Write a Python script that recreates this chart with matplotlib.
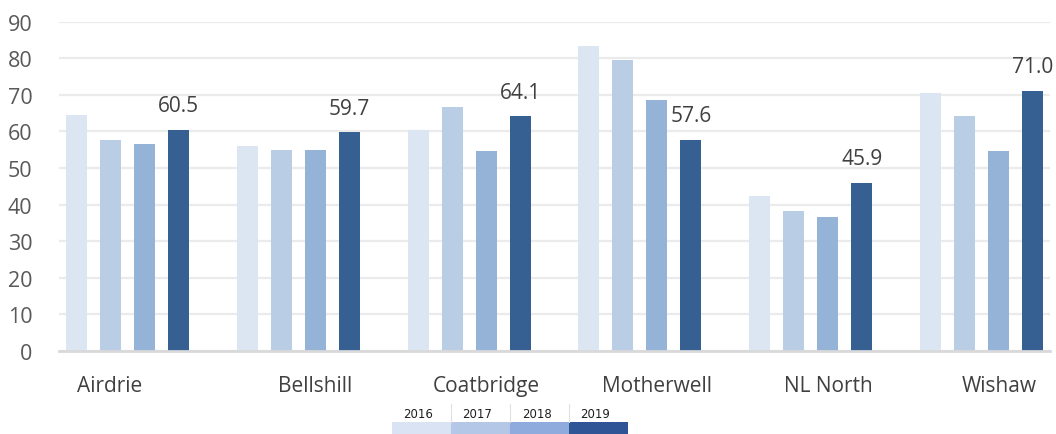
import matplotlib
matplotlib.use("Agg")
import matplotlib.pyplot as plt
import matplotlib.transforms as mtransforms
from matplotlib.patches import Rectangle
import numpy as np

# ---- data ----
categories = ["Airdrie", "Bellshill", "Coatbridge", "Motherwell", "NL North", "Wishaw"]
years = ["2016", "2017", "2018", "2019"]
v2016 = [64.5, 56.0, 60.4, 83.3, 42.3, 70.5]
v2017 = [57.7, 54.9, 66.7, 79.5, 38.2, 64.2]
v2018 = [56.6, 54.9, 54.6, 68.6, 36.6, 54.6]
v2019 = [60.5, 59.7, 64.1, 57.6, 45.9, 71.0]
series = [v2016, v2017, v2018, v2019]
yticks = [0, 10, 20, 30, 40, 50, 60, 70, 80, 90]

bar_colors = ["#DCE6F2", "#B9CDE5", "#95B3D7", "#366092"]
legend_colors = ["#DAE3F3", "#B4C7E7", "#8FAADC", "#2F5597"]

W, H = 1056, 435
fig = plt.figure(figsize=(W / 100, H / 100), dpi=100)
fig.patch.set_facecolor("white")

ax_l, ax_r = 59, 1050
ax_bottom, ax_top = 352, 22.6
ax = fig.add_axes([ax_l / W, (H - ax_bottom) / H, (ax_r - ax_l) / W, (ax_bottom - ax_top) / H])

x = np.arange(len(categories))
step = 34 / 171
width = 21 / 171
for k, (vals, col) in enumerate(zip(series, bar_colors)):
    bars = ax.bar(x + (k - 1.5) * step, vals, width=width, color=col, zorder=2, label=years[k])
    if k == 3:
        ax.bar_label(bars, labels=[f"{v:.1f}" for v in vals], padding=10,
                     fontsize=15, color="#404040", family="Open Sans")

ax.set_xlim(-0.398, len(categories) - 1 + 0.398)
ax.set_ylim(0, 90)
ax.set_yticks(yticks)
ax.set_yticklabels([str(t) for t in yticks], fontsize=15.5, color="#595959", family="Open Sans")
ax.tick_params(axis="y", length=0, pad=19)
ax.grid(axis="y", color="#EBEBEB", linewidth=1.6, zorder=0)
ax.set_axisbelow(True)
for s in ["top", "right", "left"]:
    ax.spines[s].set_visible(False)
ax.spines["bottom"].set_color("#D9D9D9")
ax.spines["bottom"].set_linewidth(2)

ax.set_xticks(x)
ax.set_xticklabels(categories, fontsize=15, color="#404040", family="Open Sans")
ax.tick_params(axis="x", length=0, pad=17)
# label offsets as in the reference (first label left of center, others right)
offsets_px = [-17, 17, 17, 17, 17, 17]
for lbl, dx in zip(ax.get_xticklabels(), offsets_px):
    lbl.set_transform(lbl.get_transform() + mtransforms.ScaledTranslation(dx / 100, 0, fig.dpi_scale_trans))

# ---- legend (table style) ----
lg_l, lg_r, lg_top, lg_bot = 392, 628, 405, 435
lax = fig.add_axes([lg_l / W, (H - lg_bot) / H, (lg_r - lg_l) / W, (lg_bot - lg_top) / H])
lax.set_xlim(0, 4)
lax.set_ylim(0, 1)
lax.axis("off")
for i, (yr, col) in enumerate(zip(years, legend_colors)):
    lax.add_patch(Rectangle((i, 0), 1, 0.4, color=col, lw=0))
    lax.text(i + 0.45, 0.68, yr, ha="center", va="center", fontsize=8.5, color="#1F1F1F",
             family="DejaVu Sans")
    if i > 0:
        lax.plot([i, i], [0.4, 1.0], color="#E0E0E0", lw=0.8)

fig.savefig("out.png", dpi=100, facecolor="white")
